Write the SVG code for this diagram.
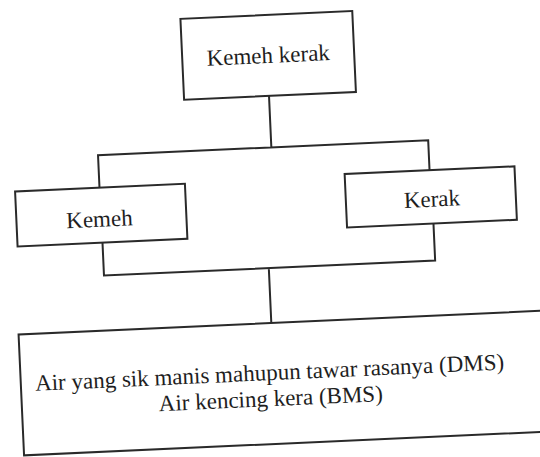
<svg xmlns="http://www.w3.org/2000/svg" width="540" height="457" viewBox="0 0 540 457">
<style>
.box{fill:#fff;stroke:#2a2a2a;stroke-width:2}
.ln{fill:none;stroke:#2a2a2a;stroke-width:2}
text{font-family:"Liberation Serif","Times New Roman",serif;font-size:23px;fill:#1e1e1e;text-anchor:middle}
</style>
<rect width="540" height="457" fill="#fff"/>
<g transform="rotate(-2.6 270 228)">
<g id="connectors">
<path class="ln" d="M275 96 V147.5 M101.5 180 V147.5 H432 V178"/>
<path class="ln" d="M102 235 V268 H433.5 V231 M267 268 V323"/>
</g>
<g id="top"><rect class="box" x="190" y="15" width="172" height="81"/><text x="276" y="63">Kemeh kerak</text></g>
<g id="kemeh"><rect class="box" x="17" y="180" width="170" height="55"/><text x="100" y="219">Kemeh</text></g>
<g id="kerak"><rect class="box" x="347" y="177.5" width="170" height="53.5"/><text x="433" y="214">Kerak</text></g>
<g id="bottom"><rect class="box" x="14" y="323" width="540" height="121"/><text x="263" y="380">Air yang sik manis mahupun tawar rasanya (DMS)</text><text x="263" y="406">Air kencing kera (BMS)</text></g>
</g>
</svg>
